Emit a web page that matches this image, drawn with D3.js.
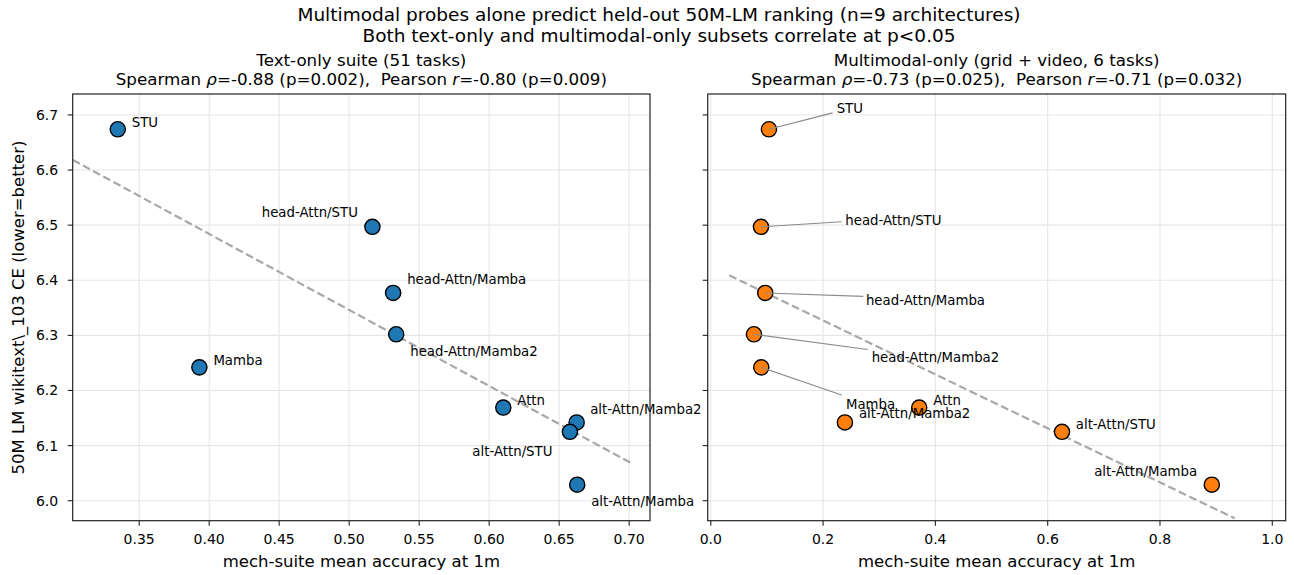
<!DOCTYPE html>
<html><head><meta charset="utf-8">
<script src="https://cdn.jsdelivr.net/npm/d3@7"></script>
<style>
body{margin:0;background:#fff}
text{font-family:"DejaVu Sans",sans-serif;fill:#000;white-space:pre}
</style>
</head><body>
<svg id="c" width="1294" height="575" xmlns="http://www.w3.org/2000/svg"></svg>
<script>
// ---------------- data ----------------
const archs = ["STU","head-Attn/STU","head-Attn/Mamba","head-Attn/Mamba2","Mamba","Attn","alt-Attn/Mamba2","alt-Attn/STU","alt-Attn/Mamba"];
const lmCE = [6.674,6.497,6.377,6.302,6.242,6.169,6.142,6.125,6.029];
const textAcc = [0.3347,0.5166,0.5314,0.5336,0.393,0.6101,0.6625,0.6577,0.6629];
const mmAcc = [0.1036,0.0894,0.0970,0.0769,0.0899,0.3712,0.2389,0.6255,0.8923];
const textFitX = [0.3025,0.7022];
const textFitY = [6.6185,6.0672];
const mmFitX = [0.0328,0.9332];
const mmFitY = [6.4089,5.968];
const yTicks = [6.0,6.1,6.2,6.3,6.4,6.5,6.6,6.7];
const textXTicks = [0.35,0.40,0.45,0.50,0.55,0.60,0.65,0.70];
const mmXTicks = [0.0,0.2,0.4,0.6,0.8,1.0];
const supTitle = ["Multimodal probes alone predict held-out 50M-LM ranking (n=9 architectures)",
                  "Both text-only and multimodal-only subsets correlate at p<0.05"];
const textTitle = "Text-only suite (51 tasks)";
const textStats = ["-0.88 (p=0.002),  Pearson ", "-0.80 (p=0.009)"];
const mmTitle = "Multimodal-only (grid + video, 6 tasks)";
const mmStats = ["-0.73 (p=0.025),  Pearson ", "-0.71 (p=0.032)"];
const xLabel = "mech-suite mean accuracy at 1m";
const yLabel = "50M LM wikitext\\_103 CE (lower=better)";

// ---------------- layout ----------------
const axTop = 94, axBottom = 520.7;
const panels = [
  {x0:72.7, x1:650, dom:[0.3025,0.7149], xs:textAcc, ticks:textXTicks, fmt:d3.format(".2f"),
   color:"#1f77b4", fitX:textFitX, fitY:textFitY, title:textTitle, stats:textStats, ylabels:true},
  {x0:707.7, x1:1285.7, dom:[-0.0055,1.0239], xs:mmAcc, ticks:mmXTicks, fmt:d3.format(".1f"),
   color:"#ff7f0e", fitX:mmFitX, fitY:mmFitY, title:mmTitle, stats:mmStats, ylabels:false}
];
const yDom = [5.9637, 6.738];
// label offsets (px) from point centre: text anchor point; l = leader line end
const textLabelPos = {
  "STU":{dx:14,dy:-7,a:"start"}, "head-Attn/STU":{dx:-14.5,dy:-14,a:"end"},
  "head-Attn/Mamba":{dx:14,dy:-13,a:"start"}, "head-Attn/Mamba2":{dx:14,dy:17,a:"start"},
  "Mamba":{dx:14,dy:-7,a:"start"}, "Attn":{dx:14,dy:-7,a:"start"},
  "alt-Attn/Mamba2":{dx:13.5,dy:-13,a:"start"}, "alt-Attn/STU":{dx:-17.5,dy:20,a:"end"},
  "alt-Attn/Mamba":{dx:14,dy:17,a:"start"}
};
const mmLabelPos = {
  "STU":{dx:67.7,dy:-20.7,a:"start",lx:63.7,ly:-16.4},
  "head-Attn/STU":{dx:84.3,dy:-6.7,a:"start",lx:80.7,ly:-5},
  "head-Attn/Mamba":{dx:100.7,dy:7.4,a:"start",lx:98,ly:3.4},
  "head-Attn/Mamba2":{dx:117.7,dy:23.3,a:"start",lx:113.7,ly:15.3},
  "Mamba":{dx:84.7,dy:36.7,a:"start",lx:80.4,ly:27.7},
  "Attn":{dx:14,dy:-7.3,a:"start"},
  "alt-Attn/Mamba2":{dx:14,dy:-8.7,a:"start"},
  "alt-Attn/STU":{dx:13.8,dy:-7,a:"start"},
  "alt-Attn/Mamba":{dx:-14.7,dy:-13.3,a:"end"}
};
const labelPos = [textLabelPos, mmLabelPos];

const svg = d3.select("#c");
const y = d3.scaleLinear().domain(yDom).range([axBottom, axTop]);

// suptitle
svg.append("g").selectAll("text").data(supTitle).join("text")
  .attr("x", 659).attr("y", (d,i)=>14.5 + i*21).attr("text-anchor","middle")
  .attr("dominant-baseline","central").style("font-size","18.5px").text(d=>d);

panels.forEach((p, pi) => {
  const x = d3.scaleLinear().domain(p.dom).range([p.x0, p.x1]);
  const g = svg.append("g");
  const cid = "clip" + pi;
  svg.append("clipPath").attr("id", cid).append("rect")
    .attr("x", p.x0).attr("y", axTop).attr("width", p.x1 - p.x0).attr("height", axBottom - axTop);

  // grid
  g.append("g").selectAll("line").data(p.ticks).join("line")
    .attr("x1", d=>x(d)).attr("x2", d=>x(d)).attr("y1", axTop).attr("y2", axBottom)
    .attr("stroke","#e6e6e6").attr("stroke-width",1.1);
  g.append("g").selectAll("line").data(yTicks).join("line")
    .attr("x1", p.x0).attr("x2", p.x1).attr("y1", d=>y(d)).attr("y2", d=>y(d))
    .attr("stroke","#e6e6e6").attr("stroke-width",1.1);

  // fit line
  g.append("path").attr("clip-path", `url(#${cid})`)
    .datum(p.fitX.map((v,i)=>[v, p.fitY[i]]))
    .attr("d", d3.line().x(d=>x(d[0])).y(d=>y(d[1])))
    .attr("fill","none").attr("stroke","#a8a8a8").attr("stroke-width",2.2)
    .attr("stroke-dasharray","8,3.6");

  const pts = archs.map((a,i)=>({a, xv:p.xs[i], yv:lmCE[i]}));
  // points
  g.append("g").selectAll("circle").data(pts).join("circle")
    .attr("cx", d=>x(d.xv)).attr("cy", d=>y(d.yv)).attr("r", 7.6)
    .attr("fill", p.color).attr("stroke","#000").attr("stroke-width",1.4);

  // leader lines
  const lp = labelPos[pi];
  g.append("g").selectAll("line").data(pts.filter(d=>lp[d.a].lx !== undefined)).join("line")
    .attr("x1", d=>x(d.xv)).attr("y1", d=>y(d.yv))
    .attr("x2", d=>x(d.xv)+lp[d.a].lx).attr("y2", d=>y(d.yv)+lp[d.a].ly)
    .attr("stroke","#8a8a8a").attr("stroke-width",1.1);

  // labels
  g.append("g").selectAll("text").data(pts).join("text")
    .attr("x", d=>x(d.xv)+lp[d.a].dx).attr("y", d=>y(d.yv)+lp[d.a].dy)
    .attr("text-anchor", d=>lp[d.a].a).attr("dominant-baseline","central")
    .style("font-size","13.3px").text(d=>d.a);

  // frame
  g.append("rect").attr("x", p.x0).attr("y", axTop).attr("width", p.x1-p.x0).attr("height", axBottom-axTop)
    .attr("fill","none").attr("stroke","#222").attr("stroke-width",1.2);

  // x ticks
  const xt = g.append("g").selectAll("g").data(p.ticks).join("g");
  xt.append("line").attr("x1", d=>x(d)).attr("x2", d=>x(d)).attr("y1", axBottom).attr("y2", axBottom+5)
    .attr("stroke","#222").attr("stroke-width",1.1);
  xt.append("text").attr("x", d=>x(d)).attr("y", axBottom+18).attr("text-anchor","middle")
    .attr("dominant-baseline","central").style("font-size","14px").text(d=>p.fmt(d));

  // y ticks
  const yt = g.append("g").selectAll("g").data(yTicks).join("g");
  yt.append("line").attr("x1", p.x0-5).attr("x2", p.x0).attr("y1", d=>y(d)).attr("y2", d=>y(d))
    .attr("stroke","#222").attr("stroke-width",1.1);
  if (p.ylabels) {
    yt.append("text").attr("x", p.x0-14.5).attr("y", d=>y(d)).attr("text-anchor","end")
      .attr("dominant-baseline","central").style("font-size","14px").text(d=>d3.format(".1f")(d));
  }

  // x label
  g.append("text").attr("x", (p.x0+p.x1)/2).attr("y", 561).attr("text-anchor","middle")
    .attr("dominant-baseline","central").style("font-size","16.5px").text(xLabel);

  // titles
  const cx = (p.x0+p.x1)/2;
  g.append("text").attr("x", cx).attr("y", 60).attr("text-anchor","middle")
    .attr("dominant-baseline","central").style("font-size","16.7px").text(p.title);
  const st = g.append("text").attr("x", cx).attr("y", 79).attr("text-anchor","middle")
    .attr("dominant-baseline","central").style("font-size","16.7px");
  st.append("tspan").text("Spearman ");
  st.append("tspan").style("font-style","italic").text("ρ");
  st.append("tspan").text("=" + p.stats[0]);
  st.append("tspan").style("font-style","italic").text("r");
  st.append("tspan").text("=" + p.stats[1]);
});

// y label
svg.append("text").attr("transform","translate(18.5,307.5) rotate(-90)")
  .attr("text-anchor","middle").attr("dominant-baseline","central")
  .style("font-size","16.5px").text(yLabel);
</script>
</body></html>
